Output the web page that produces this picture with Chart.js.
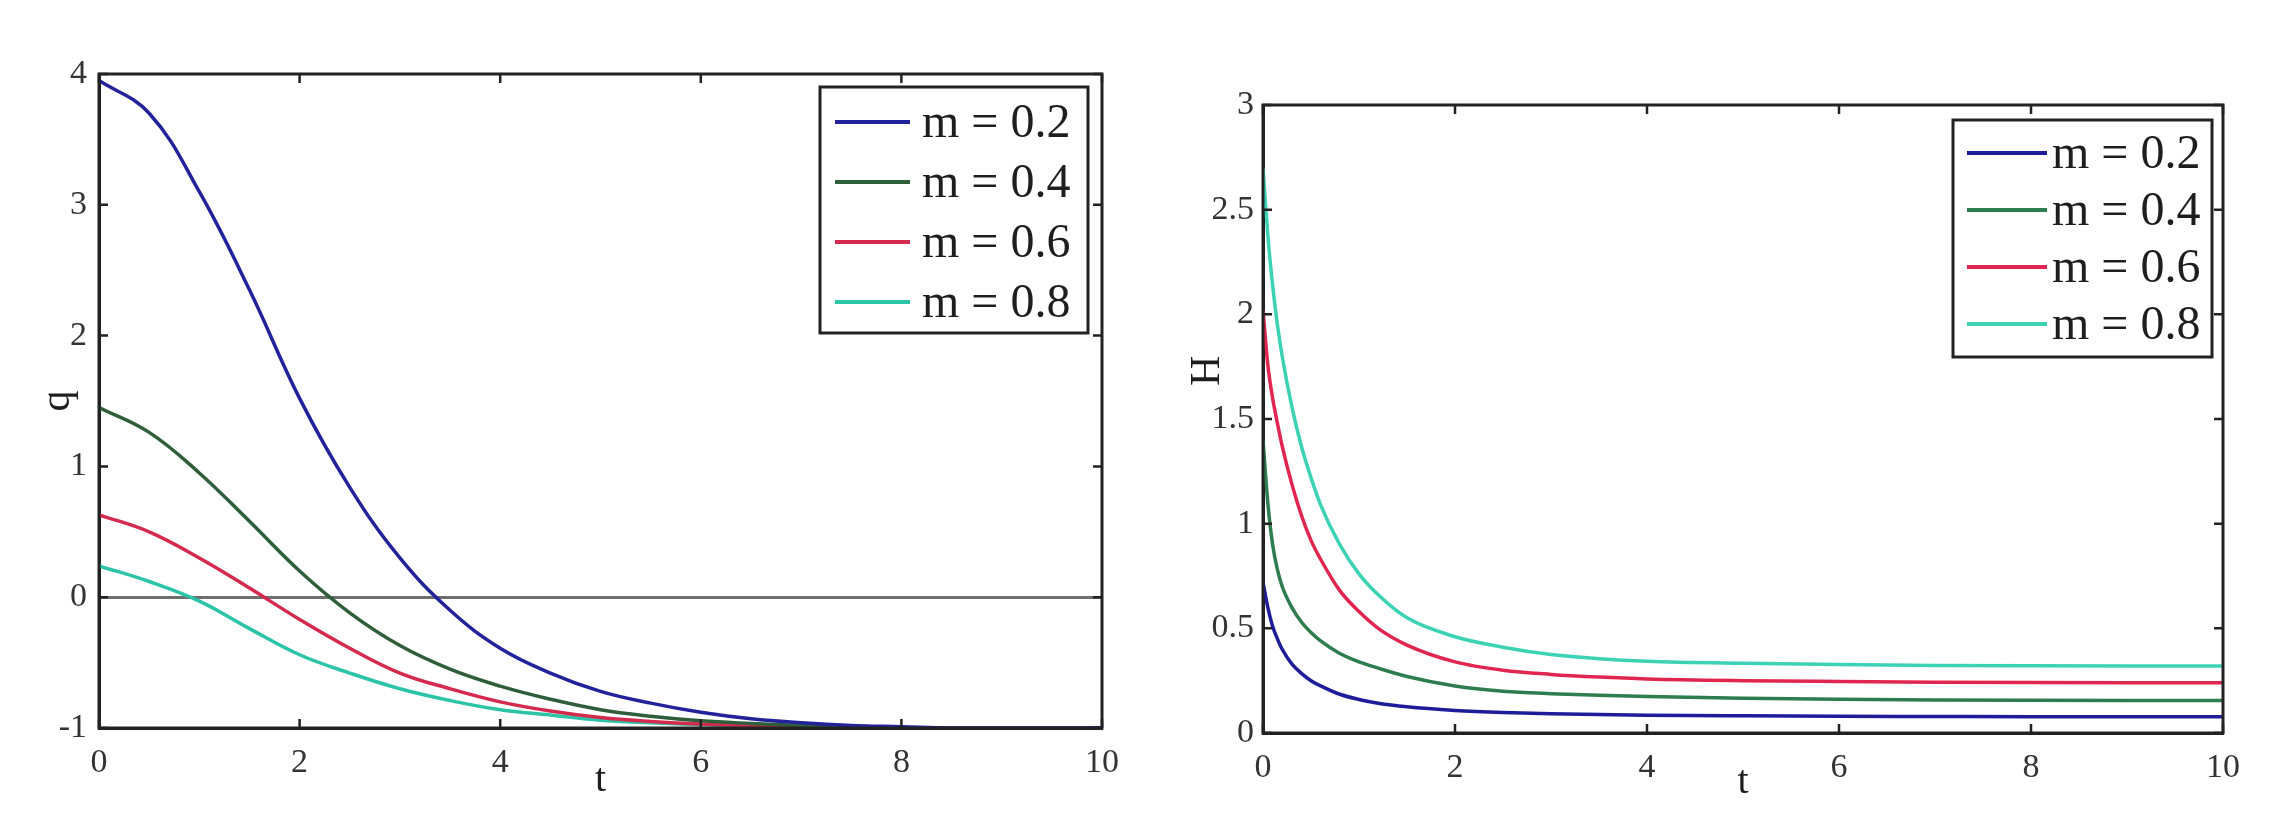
<!DOCTYPE html>
<html><head><meta charset="utf-8">
<script src="https://cdn.jsdelivr.net/npm/chart.js@4.4.1/dist/chart.umd.min.js"></script>
<style>
html,body{margin:0;padding:0;background:#fff;width:2279px;height:826px;overflow:hidden}
canvas{position:absolute;top:0}
#c1{left:0}
#c2{left:1170px}
</style></head><body>
<canvas id="c1" width="1170" height="826"></canvas>
<canvas id="c2" width="1109" height="826"></canvas>
<script>
// ---------- data ----------
const seriesLabels = ['m = 0.2', 'm = 0.4', 'm = 0.6', 'm = 0.8'];

// left panel: q versus t
const tQ   = [0, 0.5, 1, 1.5, 2, 2.5, 3, 3.5, 4, 4.5, 5, 5.5, 6, 6.5, 7, 7.5, 8, 8.5, 9, 9.5, 10];
const qM02 = [3.95, 3.7, 3.1, 2.35, 1.52, 0.84, 0.3, -0.1, -0.39, -0.58, -0.72, -0.81, -0.88, -0.93, -0.96, -0.98, -0.99, -1.0, -1.0, -1.0, -1.0];
const qM04 = [1.45, 1.26, 0.95, 0.58, 0.2, -0.12, -0.37, -0.55, -0.68, -0.78, -0.86, -0.91, -0.945, -0.965, -0.98, -0.99, -1.0, -1.0, -1.0, -1.0, -1.0];
const qM06 = [0.63, 0.5, 0.3, 0.07, -0.17, -0.39, -0.58, -0.7, -0.8, -0.87, -0.92, -0.95, -0.97, -0.98, -0.99, -1.0, -1.0, -1.0, -1.0, -1.0, -1.0];
const qM08 = [0.24, 0.12, -0.03, -0.24, -0.44, -0.58, -0.7, -0.79, -0.86, -0.9, -0.94, -0.96, -0.975, -0.985, -0.99, -1.0, -1.0, -1.0, -1.0, -1.0, -1.0];

// right panel: H versus t
const tH   = [0, 0.05, 0.1, 0.15, 0.2, 0.3, 0.4, 0.5, 0.6, 0.8, 1, 1.2, 1.5, 2, 2.5, 3, 3.5, 4, 5, 6, 7, 8, 9, 10];
const hM02 = [0.72, 0.6, 0.51, 0.45, 0.4, 0.33, 0.285, 0.25, 0.225, 0.185, 0.16, 0.142, 0.125, 0.108, 0.098, 0.092, 0.088, 0.085, 0.082, 0.08, 0.079, 0.078, 0.078, 0.078];
const hM04 = [1.4, 1.1, 0.9, 0.78, 0.7, 0.6, 0.53, 0.48, 0.44, 0.38, 0.34, 0.31, 0.27, 0.225, 0.2, 0.188, 0.18, 0.174, 0.166, 0.161, 0.158, 0.156, 0.155, 0.155];
const hM06 = [2.02, 1.76, 1.6, 1.48, 1.37, 1.19, 1.04, 0.92, 0.83, 0.68, 0.58, 0.5, 0.42, 0.34, 0.3, 0.28, 0.267, 0.258, 0.25, 0.246, 0.243, 0.241, 0.24, 0.24];
const hM08 = [2.7, 2.38, 2.14, 1.95, 1.8, 1.56, 1.37, 1.22, 1.09, 0.9, 0.76, 0.66, 0.55, 0.46, 0.41, 0.375, 0.355, 0.343, 0.333, 0.327, 0.323, 0.321, 0.32, 0.32];

// tick values
const xTicks = [0, 2, 4, 6, 8, 10];
const qTicks = [-1, 0, 1, 2, 3, 4];
const hTicks = [0, 0.5, 1, 1.5, 2, 2.5, 3];

// ---------- styling ----------
const SERIF = "'Liberation Serif', 'Times New Roman', serif";
const leftColors  = ['#22229a', '#2f5f3a', '#d42a4e', '#2cc4a6'];
const rightColors = ['#1d1d9a', '#2e7d4e', '#e0264f', '#3cd2b4'];

function pts(xs, ys) { return xs.map((x, i) => ({x: x, y: ys[i]})); }
function makeSets(xs, ysList, colors, smooth) {
  return ysList.map((ys, i) => Object.assign({
    label: seriesLabels[i],
    data: pts(xs, ys),
    borderColor: colors[i],
    backgroundColor: colors[i],
    borderWidth: 3.5,
    pointRadius: 0,
    fill: false
  }, smooth));
}

const framePlugin = {
  id: 'frame',
  afterDraw(chart, args, opts) {
    const {ctx, chartArea: a, scales} = chart;
    ctx.save();
    ctx.strokeStyle = '#222';
    ctx.lineWidth = 3;
    ctx.strokeRect(a.left, a.top, a.right - a.left, a.bottom - a.top);
    // inward tick marks on all four sides
    const L = 9;
    ctx.lineWidth = 2.5;
    ctx.beginPath();
    scales.x.ticks.forEach(t => {
      const px = scales.x.getPixelForValue(t.value);
      ctx.moveTo(px, a.bottom); ctx.lineTo(px, a.bottom - L);
      ctx.moveTo(px, a.top); ctx.lineTo(px, a.top + L);
    });
    scales.y.ticks.forEach(t => {
      const py = scales.y.getPixelForValue(t.value);
      ctx.moveTo(a.left, py); ctx.lineTo(a.left + L, py);
      ctx.moveTo(a.right, py); ctx.lineTo(a.right - L, py);
    });
    ctx.stroke();
    // boxed legend inside the plot
    const lg = opts.legend;
    const bx = a.right - lg.right - lg.width, by = a.top + lg.top;
    ctx.fillStyle = '#fff';
    ctx.fillRect(bx, by, lg.width, lg.height);
    ctx.lineWidth = 3;
    ctx.strokeStyle = '#222';
    ctx.strokeRect(bx, by, lg.width, lg.height);
    chart.data.datasets.forEach((ds, i) => {
      const y = by + lg.firstRow + i * lg.rowGap;
      ctx.strokeStyle = ds.borderColor;
      ctx.lineWidth = 4;
      ctx.beginPath();
      ctx.moveTo(bx + lg.lineX0, y); ctx.lineTo(bx + lg.lineX1, y);
      ctx.stroke();
      ctx.fillStyle = '#1e1e1e';
      ctx.font = lg.font;
      ctx.textAlign = 'left';
      ctx.textBaseline = 'middle';
      ctx.fillText(ds.label, bx + lg.textX, y + 2);
    });
    // optional side title placed at a data value
    if (opts.sideTitle) {
      const st = opts.sideTitle;
      const py = scales.y.getPixelForValue(st.value);
      ctx.translate(a.left - st.offset, py);
      ctx.rotate(-Math.PI / 2);
      ctx.fillStyle = '#1e1e1e';
      ctx.font = st.font;
      ctx.textAlign = 'center';
      ctx.textBaseline = 'middle';
      ctx.fillText(st.text, 0, 0);
    }
    ctx.restore();
  }
};

function tickSetter(vals) {
  return scale => { scale.ticks = vals.map(v => ({value: v})); };
}

function makeChart(id, datasets, cfg) {
  return new Chart(document.getElementById(id), {
    type: 'line',
    data: {datasets},
    plugins: [framePlugin],
    options: {
      responsive: false,
      animation: false,
      events: [],
      layout: {padding: cfg.padding},
      plugins: {
        legend: {display: false},
        tooltip: {enabled: false},
        frame: {legend: cfg.legend, sideTitle: cfg.sideTitle}
      },
      scales: {
        x: {
          type: 'linear', min: 0, max: 10,
          afterBuildTicks: tickSetter(xTicks),
          afterFit: s => { s.height = cfg.xHeight; },
          grid: {display: true, drawOnChartArea: false, drawTicks: false},
          border: {display: true, color: '#222', width: 3},
          ticks: {padding: 15, color: '#333', font: {family: SERIF, size: 34}, maxRotation: 0, autoSkip: false,
                  callback: v => String(v)},
          title: {display: true, text: 't', color: '#1e1e1e', font: {family: SERIF, size: 40}, padding: {top: 0, bottom: cfg.xTitlePad}}
        },
        y: {
          type: 'linear', min: cfg.yMin, max: cfg.yMax,
          afterBuildTicks: tickSetter(cfg.yTicks),
          afterFit: s => { s.width = cfg.yWidth; },
          grid: {
            display: true, drawTicks: false, drawOnChartArea: cfg.zeroLine,
            color: c => (c.tick && c.tick.value === 0 && cfg.zeroLine) ? '#6e6e6e' : 'rgba(0,0,0,0)',
            lineWidth: 3
          },
          border: {display: true, color: '#222', width: 3},
          ticks: {padding: cfg.yPad, color: '#333', font: {family: SERIF, size: 34}, autoSkip: false,
                  callback: v => String(v)},
          title: cfg.yTitle
        }
      }
    }
  });
}

makeChart('c1', makeSets(tQ, [qM02, qM04, qM06, qM08], leftColors, {tension: 0.4}), {
  padding: {left: 0, top: 74, right: 68, bottom: 0},
  xHeight: 98, yWidth: 99, yPad: 12, xTitlePad: 22,
  yMin: -1, yMax: 4, yTicks: qTicks, zeroLine: true,
  yTitle: {display: true, text: 'q', color: '#1e1e1e', font: {family: SERIF, size: 42}, padding: {top: 33, bottom: 0}},
  legend: {right: 14, top: 13, width: 268, height: 246, firstRow: 35, rowGap: 60,
           lineX0: 15, lineX1: 90, textX: 102, font: '48px ' + SERIF}
});

makeChart('c2', makeSets(tH, [hM02, hM04, hM06, hM08], rightColors, {cubicInterpolationMode: 'monotone'}), {
  padding: {left: 0, top: 105, right: 56, bottom: 0},
  xHeight: 93, yWidth: 93, yPad: 9, xTitlePad: 20,
  yMin: 0, yMax: 3, yTicks: hTicks, zeroLine: false,
  yTitle: {display: false, text: 'H'},
  sideTitle: {text: 'H', value: 1.73, offset: 55, font: '42px ' + SERIF},
  legend: {right: 11, top: 15, width: 259, height: 237, firstRow: 33, rowGap: 57,
           lineX0: 14, lineX1: 94, textX: 99, font: '48px ' + SERIF}
});
</script>
</body></html>
